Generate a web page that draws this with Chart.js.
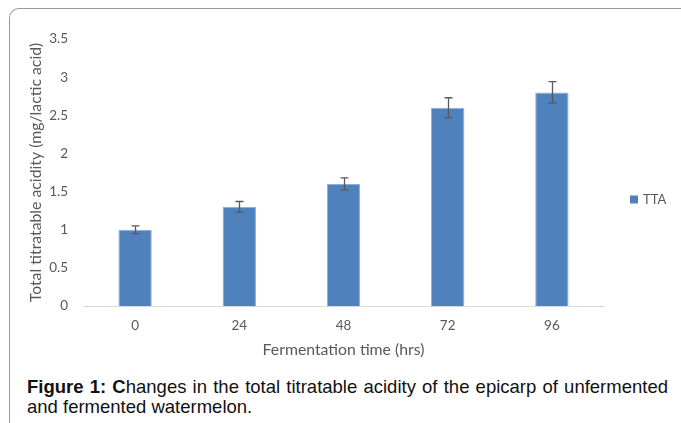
<!DOCTYPE html>
<html>
<head>
<meta charset="utf-8">
<script src="https://cdn.jsdelivr.net/npm/chart.js@4/dist/chart.umd.min.js"></script>
<style>
  html, body { margin: 0; padding: 0; background: #fff; width: 681px; height: 423px; overflow: hidden; }
  #frame { position: absolute; left: 9px; top: 8px; width: 700px; height: 450px; border-left: 1px solid #9a9a9a; border-top: 1.5px solid #9a9a9a; border-top-left-radius: 10px; box-sizing: border-box; }
  #wrap { position: absolute; left: 0; top: 0; width: 681px; height: 370px; }
  #caption { position: absolute; left: 27px; top: 377px; width: 641px; font-family: "Liberation Sans", Arial, sans-serif; font-size: 18.5px; line-height: 20px; color: #111; text-align: justify; text-align-last: left; }
  #caption b { font-weight: bold; }
</style>
</head>
<body>
<div id="frame"></div>
<div id="wrap"><canvas id="c" width="681" height="370"></canvas></div>
<div id="caption"><b>Figure 1: C</b>hanges in the total titratable acidity of the epicarp of unfermented and fermented watermelon.</div>
<script>
const categories = ["0", "24", "48", "72", "96"];
const ttaValues = [1.0, 1.3, 1.6, 2.6, 2.8];
const ttaErrors = [0.05, 0.07, 0.08, 0.13, 0.14];
const yTickLabels = ["0", "0.5", "1", "1.5", "2", "2.5", "3", "3.5"];
const seriesLabel = "TTA";
const xTitle = "Fermentation time (hrs)";
const yTitle = "Total titratable acidity (mg/lactic acid)";

const axisColor = "#595959";
const fontFamily = "Lato, 'Open Sans', sans-serif";

const errorBars = {
  id: 'errorBars',
  afterDatasetsDraw(chart) {
    const ctx = chart.ctx;
    const ys = chart.scales.y;
    const meta = chart.getDatasetMeta(0);
    ctx.save();
    ctx.strokeStyle = '#595959';
    ctx.lineWidth = 1.3;
    meta.data.forEach((bar, i) => {
      const v = ttaValues[i], e = ttaErrors[i];
      const x = Math.round(bar.x) + 0.5;
      const yTop = ys.getPixelForValue(v + e);
      const yBot = ys.getPixelForValue(v - e);
      const cap = 4;
      ctx.beginPath();
      ctx.moveTo(x, yTop); ctx.lineTo(x, yBot);
      ctx.moveTo(x - cap, yTop); ctx.lineTo(x + cap, yTop);
      ctx.moveTo(x - cap, yBot); ctx.lineTo(x + cap, yBot);
      ctx.stroke();
    });
    ctx.restore();
  }
};

const sideLegend = {
  id: 'sideLegend',
  afterDraw(chart) {
    const ctx = chart.ctx;
    const ds = chart.data.datasets[0];
    const area = chart.chartArea;
    const x = area.right + 26;
    const y = (area.top + area.bottom) / 2 + 27;
    ctx.save();
    ctx.fillStyle = ds.backgroundColor;
    ctx.fillRect(x, y - 4, 8, 8);
    ctx.fillStyle = axisColor;
    ctx.font = "13px " + fontFamily;
    ctx.textBaseline = 'middle';
    ctx.textAlign = 'left';
    ctx.fillText(ds.label, x + 13, y);
    ctx.restore();
  }
};

new Chart(document.getElementById('c'), {
  type: 'bar',
  data: {
    labels: categories,
    datasets: [{
      label: seriesLabel,
      data: ttaValues,
      backgroundColor: '#4f81bd',
      borderColor: '#8fadd6',
      borderWidth: 1,
      categoryPercentage: 1.0,
      barPercentage: 0.32
    }]
  },
  options: {
    responsive: false,
    animation: false,
    devicePixelRatio: 1,
    layout: { padding: { left: 0, top: 39, right: 77, bottom: 10 } },
    plugins: { legend: { display: false }, tooltip: { enabled: false } },
    scales: {
      x: {
        grid: { display: false, drawTicks: false },
        border: { display: true, color: '#d9d9d9', width: 1 },
        ticks: { color: axisColor, font: { family: fontFamily, size: 13.5 }, padding: 12, maxRotation: 0 },
        title: { display: true, text: xTitle, color: axisColor, font: { family: fontFamily, size: 15.8 }, padding: { top: 0, bottom: 0.5 } },
        afterFit(scale) { scale.height = 54; }
      },
      y: {
        min: 0, max: 3.5,
        grid: { display: false, drawTicks: false },
        border: { display: false },
        ticks: {
          stepSize: 0.5, color: axisColor, font: { family: fontFamily, size: 13.5 }, padding: 15,
          callback: (v, i) => yTickLabels[i]
        },
        title: { display: true, text: yTitle, color: axisColor, font: { family: fontFamily, size: 15.8 }, padding: { top: 26.5, bottom: 0 } },
        afterFit(scale) { scale.width = 83; }
      }
    }
  },
  plugins: [errorBars, sideLegend]
});
</script>
</body>
</html>
